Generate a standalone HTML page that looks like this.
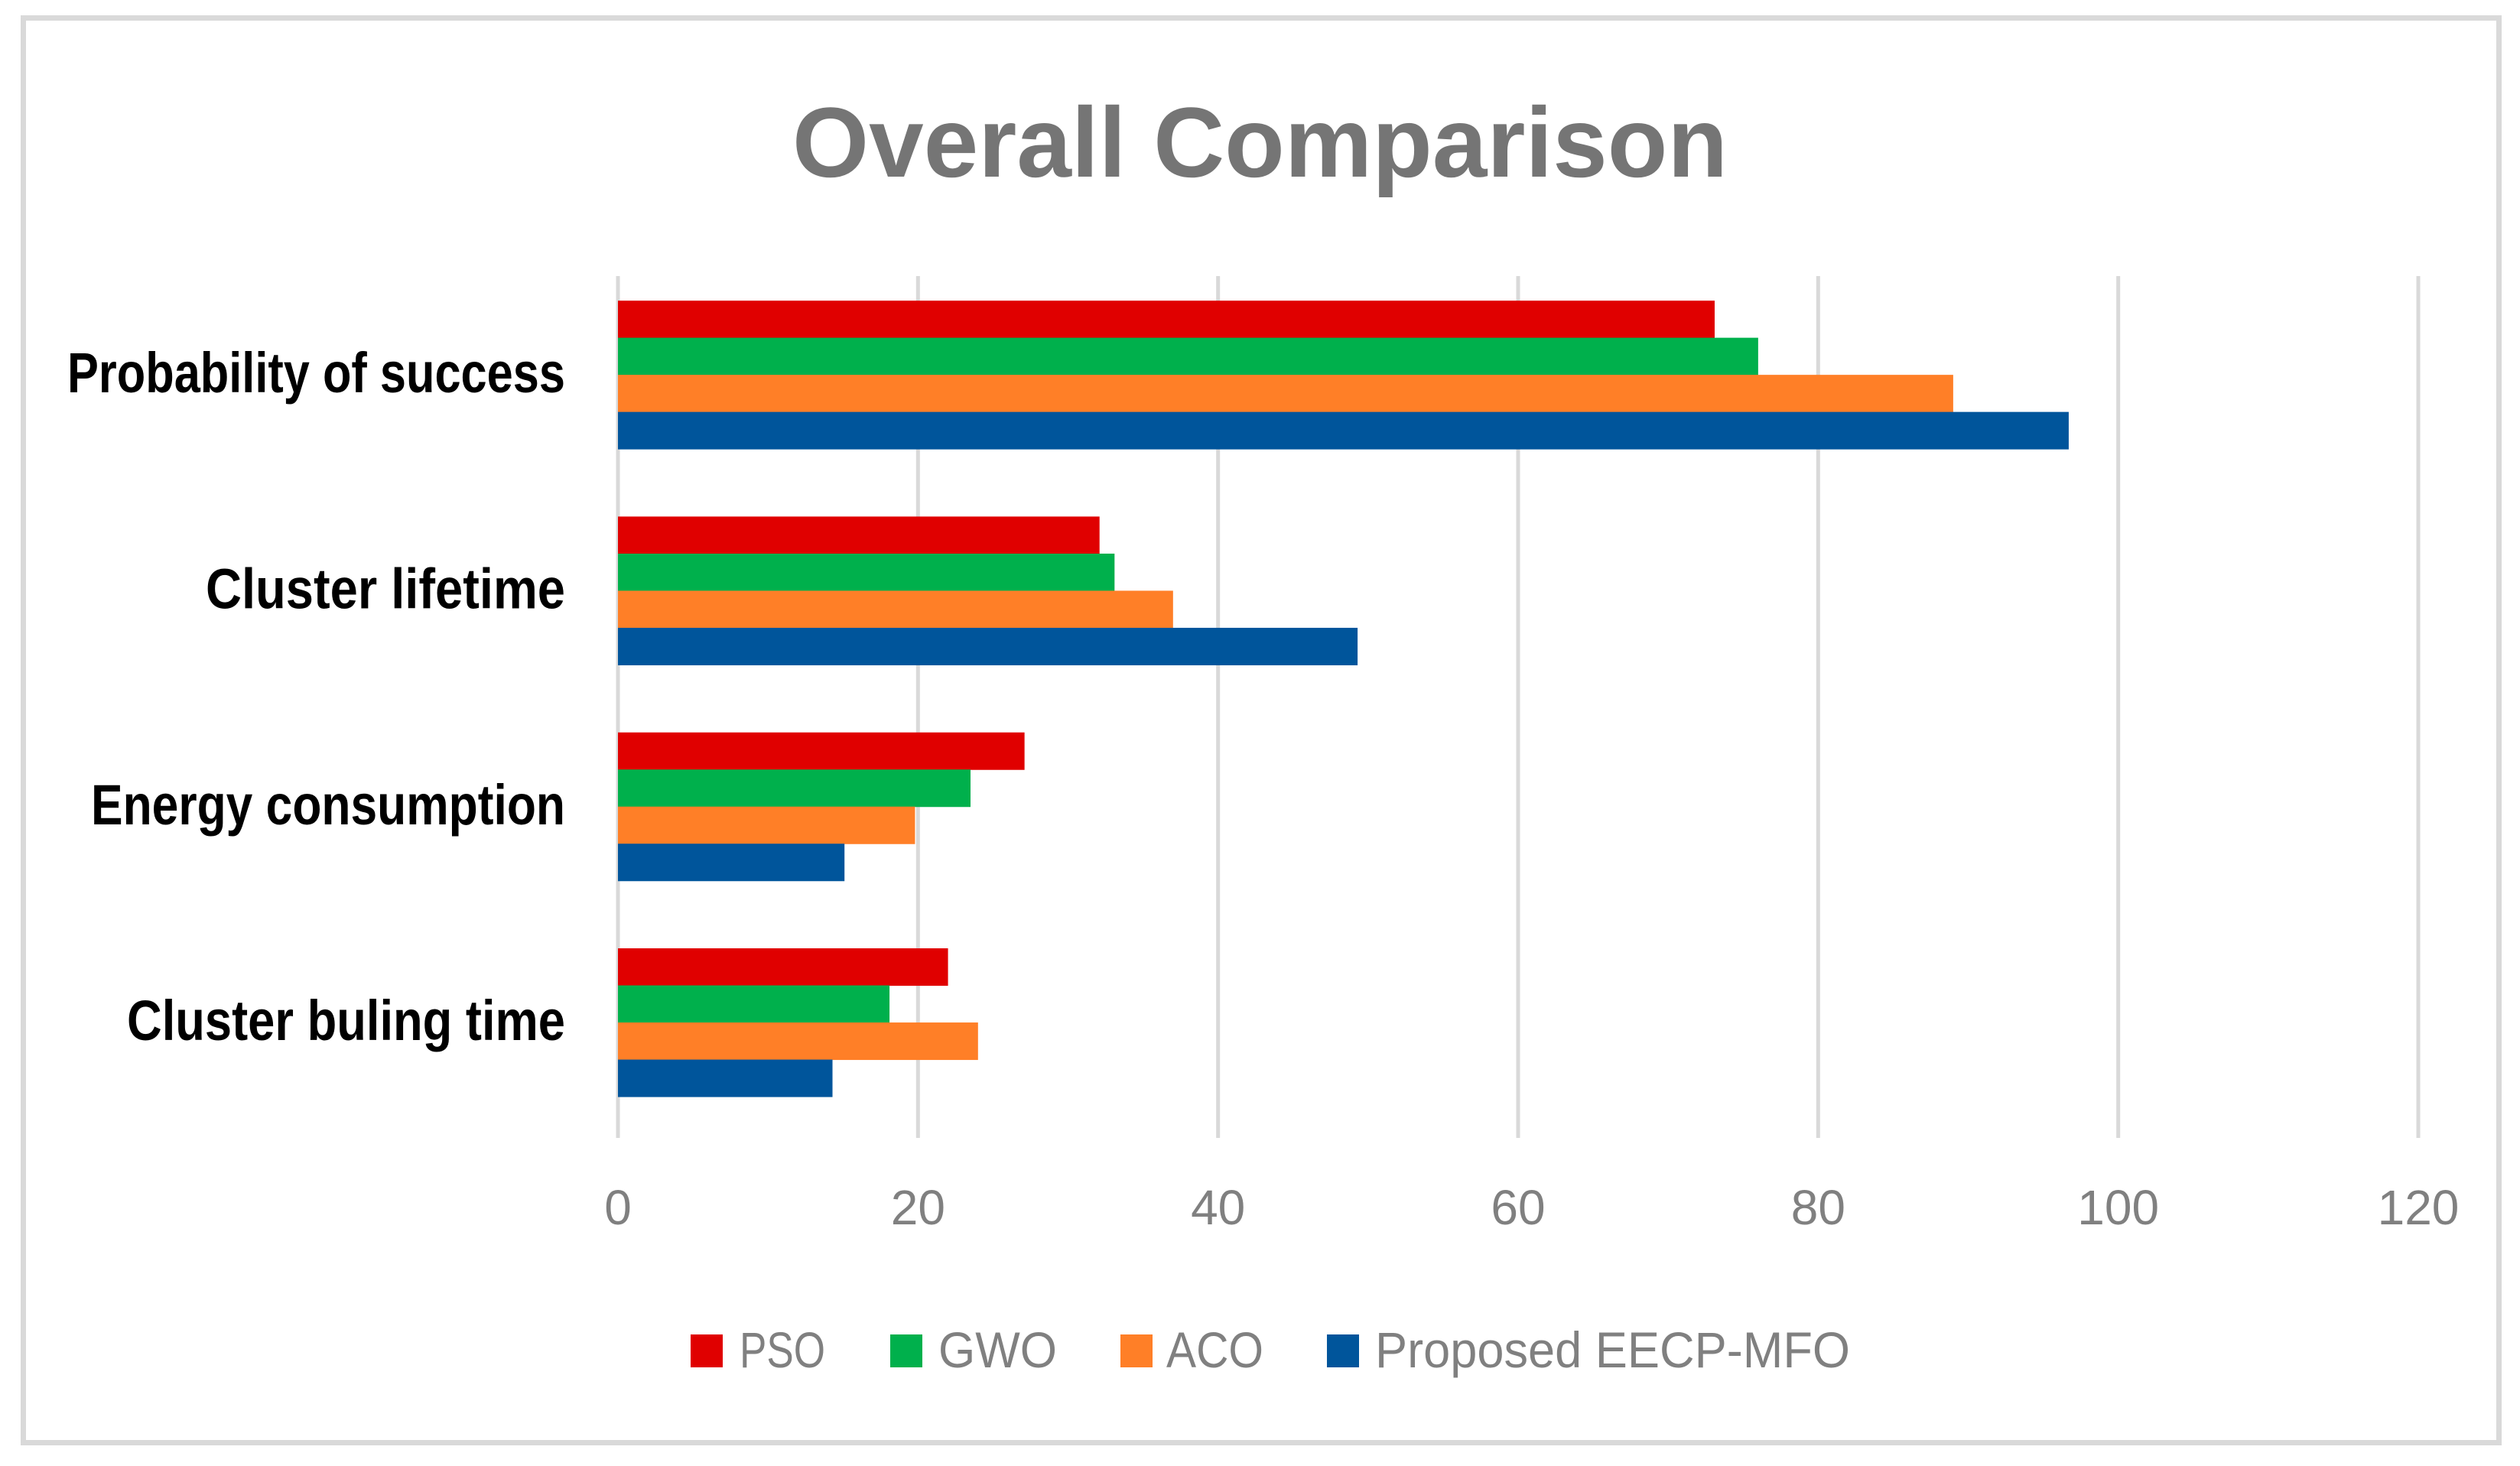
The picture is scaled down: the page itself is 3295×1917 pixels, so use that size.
<!DOCTYPE html>
<html><head><meta charset="utf-8"><style>html,body{margin:0;padding:0;background:#fff}svg{display:block}</style></head>
<body>
<svg id="chart" width="3295" height="1917" xmlns="http://www.w3.org/2000/svg" font-family="'Liberation Sans', sans-serif">
<rect x="30.5" y="23.5" width="3237" height="1863" fill="#fff" stroke="#d9d9d9" stroke-width="7"/>
<text x="1036" y="231" font-size="130" font-weight="bold" fill="#757575" textLength="1223" lengthAdjust="spacingAndGlyphs">Overall Comparison</text>
<g id="grid"></g><g id="bars"></g><g id="cats"></g><g id="ticks"></g><g id="legend"></g>
</svg>
<script>
const categories = ["Probability of success","Cluster lifetime","Energy consumption","Cluster buling time"];
const seriesNames = ["PSO","GWO","ACO","Proposed EECP-MFO"];
const psoValues = [73.1, 32.1, 27.1, 22.0];
const gwoValues = [76.0, 33.1, 23.5, 18.1];
const acoValues = [89.0, 37.0, 19.8, 24.0];
const mfoValues = [96.7, 49.3, 15.1, 14.3];
const tickValues = [0, 20, 40, 60, 80, 100, 120];
const catLabelWidths = [651, 470, 620, 573];

const NS = "http://www.w3.org/2000/svg";
const colors = ["#e00000","#00b04c","#ff7f27","#00559b"];
const series = [psoValues, gwoValues, acoValues, mfoValues];
const x0 = 808, x1 = 3162, xmax = 120;
const xs = v => x0 + (v / xmax) * (x1 - x0);
const plotTop = 349, bandH = 282.3, barH = 48.5;
const bandCenter = i => plotTop + bandH * (i + 0.5);
function mk(tag, attrs, parent) { const e = document.createElementNS(NS, tag); for (const k in attrs) e.setAttribute(k, attrs[k]); parent.appendChild(e); return e; }

const grid = document.getElementById('grid'), ticks = document.getElementById('ticks');
tickValues.forEach(t => {
  const l = mk('line', {x1: xs(t), x2: xs(t), y1: 361, y2: 1488, stroke: '#d9d9d9', 'stroke-width': 5}, grid);
  
  
  const tx = mk('text', {x: xs(t), y: 1601, 'font-size': 64, fill: '#808080', 'text-anchor': 'middle'}, ticks);
  tx.textContent = t;
  
  
});

const bars = document.getElementById('bars'), cats = document.getElementById('cats');
categories.forEach((c, i) => {
  const top = bandCenter(i) - barH * 2;
  series.forEach((s, j) => {
    const r = mk('rect', {x: x0, y: top + j * barH, width: xs(s[i]) - x0, height: barH + 0.5, fill: colors[j]}, bars);
    
    
  });
  const t = mk('text', {x: 739, y: bandCenter(i) + 23, 'font-size': 74, 'font-weight': 'bold', fill: '#000', 'text-anchor': 'end', textLength: catLabelWidths[i], lengthAdjust: 'spacingAndGlyphs'}, cats);
  t.textContent = c;
  
  
});

const legend = document.getElementById('legend');
const legSq = [903, 1164, 1465, 1735], legTx = [967, 1227, 1525, 1798], legW = [112, 155, 127, 621];
seriesNames.forEach((n, j) => {
  const g = mk('g', {}, legend);
  
  
  mk('rect', {x: legSq[j], y: 1745, width: 42, height: 43, fill: colors[j]}, g);
  const t = mk('text', {x: legTx[j], y: 1788, 'font-size': 66, fill: '#808080', textLength: legW[j], lengthAdjust: 'spacingAndGlyphs'}, g);
  t.textContent = n;
});
</script>
</body></html>
